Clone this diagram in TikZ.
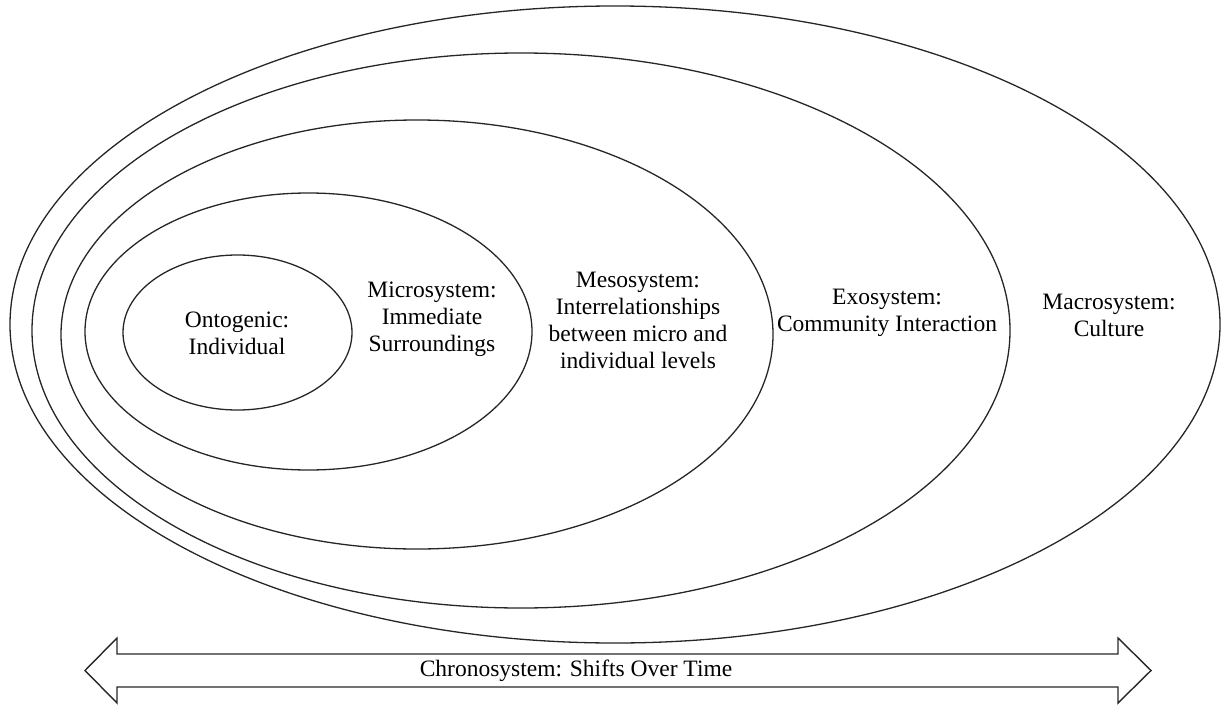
\documentclass[tikz,border=0pt]{standalone}
\usepackage{fontspec}
\setmainfont{Liberation Serif}
\usetikzlibrary{shapes.geometric}
\begin{document}
\begin{tikzpicture}[x=1pt,y=-1pt,
  ring/.style={draw=black!85, line width=1.3pt, ellipse, inner sep=0pt, outer sep=0pt},
  lbl/.style={align=center, inner sep=0pt, font=\fontsize{23.5}{27}\selectfont},
  arrowbox/.style={draw=black!85, line width=1.4pt, line join=miter}]
\useasboundingbox (0,0) rectangle (1222,706);
\node[ring, minimum width=1210pt, minimum height=637pt] (macro) at (615,324.5) {};
\node[ring, minimum width=978pt, minimum height=555pt] (exo) at (521,330.5) {};
\node[ring, minimum width=712pt, minimum height=429pt] (meso) at (417,334.5) {};
\node[ring, minimum width=447pt, minimum height=277pt] (micro) at (308.5,331.5) {};
\node[ring, minimum width=229pt, minimum height=155pt] (onto) at (237.5,332.5) {};
\node[lbl] (tonto) at (237,333.5) {Ontogenic:\\Individual};
\node[lbl] (tmicro) at (432,319.5) {Microsystem:\\Immediate\\Surroundings};
\node[lbl] (tmeso) at (638,320) {Mesosystem:\\Interrelationships\\between micro and\\individual levels};
\node[lbl] (texo) at (887,312.5) {Exosystem:\\Community Interaction};
\node[lbl] (tmacro) at (1109,315.5) {Macrosystem:\\Culture};
\draw[arrowbox] (85,670.5) -- (117,638) -- (117,654) -- (1118,654) -- (1118,638) -- (1151,670.5)
  -- (1118,703) -- (1118,687) -- (117,687) -- (117,703) -- cycle;
\node[lbl] (chrono) at (576,671) {Chronosystem: Shifts Over Time};
\end{tikzpicture}
\end{document}
